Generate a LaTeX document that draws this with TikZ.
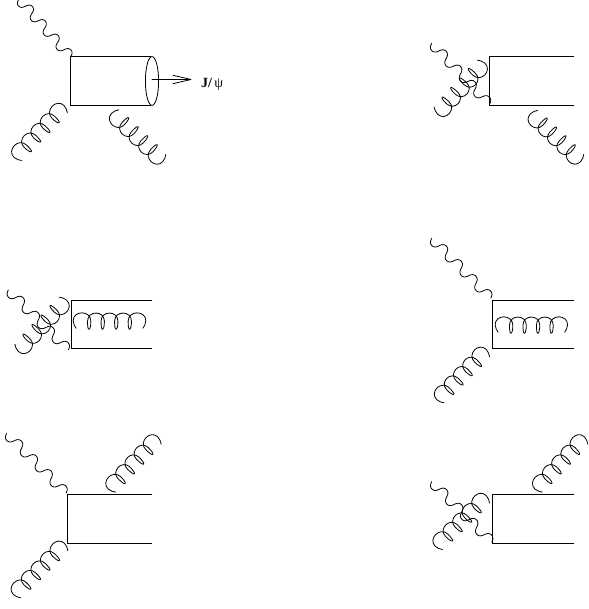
\documentclass[tikz,border=0pt]{standalone}
\usepackage{fontspec}
\setmainfont{Liberation Serif}
\tikzset{
  feyn/.style={line width=0.8pt,line join=round,line cap=round,black},
  boxline/.style={line width=0.75pt,black},
  jpsilabel/.style={font=\fontsize{14}{16}\selectfont\bfseries,inner sep=0pt,anchor=base west}
}
\newcommand{\phot}[4]{%
  \pgfmathsetmacro{\myang}{atan2(-((#4)-(#2)),(#3)-(#1))}%
  \pgfmathsetmacro{\mylen}{veclen((#4)-(#2),(#3)-(#1))}%
  \begin{scope}[shift={(#1,#2)},rotate=\myang,x=1pt,y=1pt]
    \draw[feyn] plot[domain=0:1,samples=161,smooth] ({\mylen*\x-0.8*sin(2880*\x)},{-5*sin(1440*\x)});
  \end{scope}}
\newcommand{\gluo}[5]{%
  \pgfmathsetmacro{\myang}{atan2(-((#4)-(#2)),(#3)-(#1))}%
  \pgfmathsetmacro{\mylen}{veclen((#4)-(#2),(#3)-(#1))}%
  \pgfmathsetmacro{\myxs}{\mylen/74}%
  \begin{scope}[shift={(#1,#2)},rotate=\myang,x=1pt,y=1pt,xscale=\myxs,yscale=#5]
    \draw[feyn] (2.2,1) .. controls (1,3) and (-0.9,5) .. (-0.9,8.5)
      .. controls (-0.9,19.2) and (17.6,19.2) .. (17.6,8)
      .. controls (17.6,3) and (16.6,0) .. (15.6,0)
      .. controls (14.6,0) and (14.1,3) .. (14.1,8)
      \foreach \k in {1,2,3}{
        .. controls ({\k*14.1},19) and ({\k*14.1+17.6},19) .. ({\k*14.1+17.6},8)
        .. controls ({\k*14.1+17.6},3) and ({\k*14.1+16.6},0) .. ({\k*14.1+15.6},0)
        .. controls ({\k*14.1+14.6},0) and ({\k*14.1+14.1},3) .. ({\k*14.1+14.1},8)
      }
      .. controls (56.4,19.2) and (74.9,19.2) .. (74.9,8.5) .. controls (74.9,5) and (73,3) .. (71.8,1);
  \end{scope}}
\begin{document}
\begin{tikzpicture}[x=1pt,y=-1pt]
\useasboundingbox (0,0) rectangle (588,609);
\clip (0,0) rectangle (588,609);
% diagram 1
\draw[boxline] (150.5,56.7) -- (70.7,56.7) -- (70.7,105) -- (150.5,105);
\draw[feyn] (152,81) ellipse [x radius=6.6,y radius=24.4];
\coordinate (a1) at (152,79.5);
\coordinate (a2) at (191,79.5);
\coordinate (a3) at (173,75.3);
\coordinate (a4) at (173,83.7);
\draw[feyn] (a1) -- (a2) (a3) -- (a2) -- (a4);
\node[jpsilabel] (jpsi) at (201,88) {J/\,{\mdseries ψ}};
\phot{19}{-1}{70.5}{57}
\gluo{69.5}{112}{20.7}{162.7}{-1}
\gluo{118}{107.7}{168}{155}{-1}
% diagram 2
\draw[boxline] (574,56) -- (489.5,56) -- (489.5,105) -- (574,105);
\phot{431.7}{43.3}{489.5}{104.5}
\gluo{478}{58}{432}{108}{1}
\gluo{536.7}{108.3}{586}{155}{-1}
% diagram 3
\draw[boxline] (152,300) -- (71,300) -- (71,348.3) -- (152,348.3);
\phot{8.3}{290}{68.3}{350}
\gluo{60}{295}{12.7}{345}{1}
\gluo{74}{329.3}{145}{329.3}{1}
% diagram 4
\draw[boxline] (574,300) -- (492.7,300) -- (492.7,348.3) -- (574,348.3);
\phot{431.7}{238.3}{490.7}{298.3}
\gluo{491.7}{356}{443.3}{405}{-1}
\gluo{496}{333.3}{566.7}{333.3}{1}
% diagram 5
\draw[boxline] (152,494.3) -- (67.7,494.3) -- (67.7,543) -- (152,543);
\phot{6.7}{433.3}{66}{493.3}
\gluo{70}{550}{20}{600}{-1}
\gluo{115}{494.3}{163.3}{443.3}{1}
% diagram 6
\draw[boxline] (574,494.3) -- (492.7,494.3) -- (492.7,543) -- (574,543);
\phot{431.7}{481.7}{491.7}{542.3}
\gluo{491.7}{502.3}{441.7}{551.7}{-1}
\gluo{541.7}{494.3}{590}{443.3}{1}
\end{tikzpicture}
\end{document}
